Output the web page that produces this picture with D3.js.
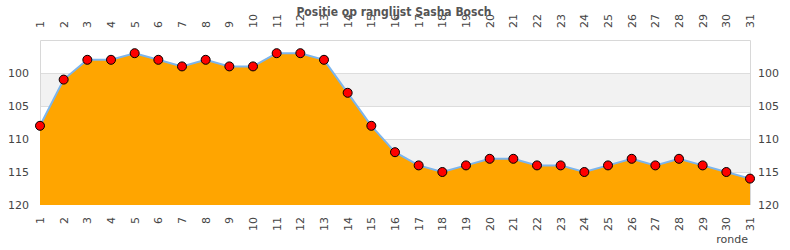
<!DOCTYPE html>
<html>
<head>
<meta charset="utf-8">
<script src="https://cdn.jsdelivr.net/npm/d3@7"></script>
<style>
  body { margin: 0; background: #fff; }
  text { font-family: "DejaVu Sans", sans-serif; fill: #444; }
</style>
</head>
<body>
<script>
// DATA
var rondes = d3.range(1, 32);
var posities = [108, 101, 98, 98, 97, 98, 99, 98, 99, 99, 97, 97, 98, 103, 108, 112,
                114, 115, 114, 113, 113, 114, 114, 115, 114, 113, 114, 113, 114, 115, 116];
var yTicks = [100, 105, 110, 115, 120];
var bands = [[100, 105], [110, 115]];

var W = 790, H = 250;
var margin = { top: 40, right: 40, bottom: 45, left: 40 },
    width = W - margin.left - margin.right,
    height = H - margin.top - margin.bottom;

var svg = d3.select("body").append("svg")
    .attr("width", W)
    .attr("height", H);

var g = svg.append("g")
    .attr("transform", "translate(" + margin.left + "," + margin.top + ")");

var x = d3.scaleLinear().domain([1, 31]).range([0, width]);
var y = d3.scaleLinear().domain([95, 120]).range([0, height]);

// alternating bands
g.selectAll(".band")
    .data(bands)
    .enter().append("rect")
    .attr("x", 0)
    .attr("width", width)
    .attr("y", d => y(d[0]))
    .attr("height", d => y(d[1]) - y(d[0]))
    .attr("fill", "#f2f2f2");

// grid lines
g.selectAll(".grid")
    .data(yTicks.slice(0, -1))
    .enter().append("line")
    .attr("x1", 0).attr("x2", width)
    .attr("y1", d => Math.round(y(d)) + 0.5)
    .attr("y2", d => Math.round(y(d)) + 0.5)
    .attr("stroke", "#dddddd");

// frame
g.append("path")
    .attr("d", "M0.5," + height + "V0.5H" + (width + 0.5) + "V" + height)
    .attr("fill", "none")
    .attr("stroke", "#d8d8d8");

// area + line
var area = d3.area()
    .x((d, i) => x(rondes[i]))
    .y0(y(120))
    .y1(d => y(d));
var line = d3.line()
    .x((d, i) => x(rondes[i]))
    .y(d => y(d));

g.append("path")
    .datum(posities)
    .attr("d", area)
    .attr("fill", "#ffa500");

g.append("path")
    .datum(posities)
    .attr("d", line)
    .attr("fill", "none")
    .attr("stroke", "#7cb5ec")
    .attr("stroke-width", 2);

// markers
g.selectAll(".dot")
    .data(posities)
    .enter().append("circle")
    .attr("cx", (d, i) => x(rondes[i]))
    .attr("cy", d => y(d))
    .attr("r", 4.5)
    .attr("fill", "#ff0000")
    .attr("stroke", "#000")
    .attr("stroke-width", 1);

// y labels left & right
g.selectAll(".yl")
    .data(yTicks)
    .enter().append("text")
    .attr("x", -11)
    .attr("y", d => y(d))
    .attr("dy", "0.35em")
    .attr("text-anchor", "end")
    .style("font-size", "11px")
    .text(d => d);

g.selectAll(".yr")
    .data(yTicks)
    .enter().append("text")
    .attr("x", width + 8)
    .attr("y", d => y(d))
    .attr("dy", "0.35em")
    .attr("text-anchor", "start")
    .style("font-size", "11px")
    .text(d => d);

// x labels top
g.selectAll(".xt")
    .data(rondes)
    .enter().append("text")
    .attr("transform", d => "translate(" + x(d) + ",-12) rotate(-90)")
    .attr("dy", "0.35em")
    .attr("text-anchor", "start")
    .style("font-size", "11px")
    .text(d => d);

// x labels bottom
g.selectAll(".xb")
    .data(rondes)
    .enter().append("text")
    .attr("transform", d => "translate(" + x(d) + "," + (height + 12) + ") rotate(-90)")
    .attr("dy", "0.35em")
    .attr("text-anchor", "end")
    .style("font-size", "11px")
    .text(d => d);

// axis title
svg.append("text")
    .attr("x", 748)
    .attr("y", 243)
    .attr("text-anchor", "end")
    .style("font-size", "11px")
    .text("ronde");

// chart title
svg.append("text")
    .attr("x", 394)
    .attr("y", 16)
    .attr("text-anchor", "middle")
    .style("font-family", "'DejaVu Sans Condensed', 'DejaVu Sans', sans-serif")
    .style("font-stretch", "condensed")
    .style("font-size", "12px")
    .style("font-weight", "bold")
    .style("fill", "#555")
    .text("Positie op ranglijst Sasha Bosch");
</script>
</body>
</html>
